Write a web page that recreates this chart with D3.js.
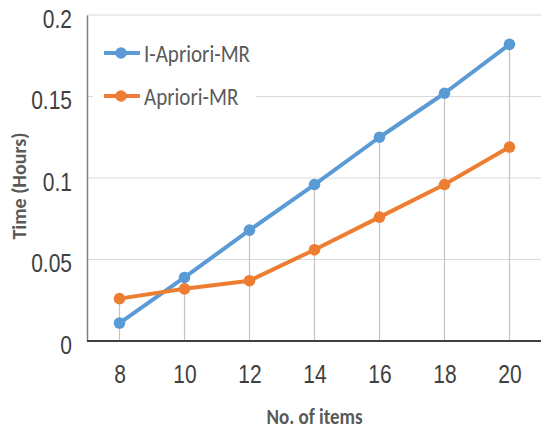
<!DOCTYPE html>
<html>
<head>
<meta charset="utf-8">
<script src="https://cdn.jsdelivr.net/npm/d3@7"></script>
<style>
  html, body { margin: 0; padding: 0; background: #fff; }
  svg { display: block; font-family: Calibri, Carlito, Lato, "Open Sans", sans-serif; }
</style>
</head>
<body>
<svg id="chart" width="541" height="432"></svg>
<script>
// Number of items on the x axis
const items = [8, 10, 12, 14, 16, 18, 20];
// Execution time in hours for each algorithm
const iAprioriMR = [0.011, 0.039, 0.068, 0.096, 0.125, 0.152, 0.182];
const aprioriMR = [0.026, 0.032, 0.037, 0.056, 0.076, 0.096, 0.119];
const seriesNames = ["I-Apriori-MR", "Apriori-MR"];
const seriesColors = ["#5b9bd5", "#ed7d31"];
const yTicks = [0, 0.05, 0.1, 0.15, 0.2];
const yTickLabels = ["0", "0.05", "0.1", "0.15", "0.2"];

const svg = d3.select("#chart");
const margin = { left: 87, right: -1, top: 15, bottom: 91 };
const W = 541, H = 432;
const stretchY = 1.2; // tall, condensed lettering

// Stretch text vertically about its own anchor point
function stretch(sel, k) {
  sel.each(function () {
    const t = d3.select(this);
    const tx = +t.attr("x") || 0;
    const ty = +t.attr("y") || 0;
    const prev = t.attr("transform") || "";
    t.attr("x", 0).attr("y", 0)
      .attr("transform", `${prev} translate(${tx},${ty}) scale(1,${k})`);
  });
}

const x = d3.scalePoint()
  .domain(items)
  .range([margin.left, W - margin.right])
  .padding(0.5);
const y = d3.scaleLinear()
  .domain([0, 0.2])
  .range([H - margin.bottom, margin.top]);

// horizontal gridlines
svg.append("g")
  .selectAll("line")
  .data(yTicks.slice(1))
  .join("line")
  .attr("x1", margin.left)
  .attr("x2", W)
  .attr("y1", d => y(d))
  .attr("y2", d => y(d))
  .attr("stroke", "#d9d9d9")
  .attr("stroke-width", 1.2);

// drop lines from the highest point of each category to the baseline
const tops = items.map((d, i) => Math.max(iAprioriMR[i], aprioriMR[i]));
svg.append("g")
  .selectAll("line")
  .data(items)
  .join("line")
  .attr("x1", d => x(d))
  .attr("x2", d => x(d))
  .attr("y1", (d, i) => y(tops[i]))
  .attr("y2", y(0))
  .attr("stroke", "#c4c4c4")
  .attr("stroke-width", 1.2);

// y axis
const yAxis = svg.append("g")
  .attr("transform", `translate(${margin.left},0)`)
  .call(d3.axisLeft(y).tickValues(yTicks).tickFormat((d, i) => yTickLabels[i]).tickSize(0).tickPadding(15));
yAxis.select(".domain").attr("stroke", "#7f7f7f").attr("stroke-width", 1.5);
yAxis.selectAll("text")
  .attr("font-size", 21)
  .attr("fill", "#404040")
  .attr("font-family", null)
  .attr("y", 4)
  .call(stretch, stretchY);

// x axis
const xAxis = svg.append("g")
  .attr("transform", `translate(0,${y(0)})`)
  .call(d3.axisBottom(x).tickSize(0).tickPadding(16));
xAxis.select(".domain").attr("stroke", "#404040").attr("stroke-width", 2).attr("d", `M${margin.left},0H${W}`);
xAxis.selectAll("text")
  .attr("font-size", 21)
  .attr("fill", "#404040")
  .attr("font-family", null)
  .attr("dy", null)
  .attr("dominant-baseline", "central")
  .attr("y", 33)
  .call(stretch, stretchY);

// series lines and markers
const series = [iAprioriMR, aprioriMR];
const line = d3.line().x((d, i) => x(items[i])).y(d => y(d));
series.forEach((vals, s) => {
  const g = svg.append("g");
  g.append("path")
    .datum(vals)
    .attr("d", line)
    .attr("fill", "none")
    .attr("stroke", seriesColors[s])
    .attr("stroke-width", 4)
    .attr("stroke-linejoin", "round");
  g.selectAll("circle")
    .data(vals)
    .join("circle")
    .attr("cx", (d, i) => x(items[i]))
    .attr("cy", d => y(d))
    .attr("r", 5.8)
    .attr("fill", seriesColors[s]);
});

// legend
const legend = svg.append("g");
legend.append("rect")
  .attr("x", 93).attr("y", 32).attr("width", 163).attr("height", 86)
  .attr("fill", "#fff");
seriesNames.forEach((name, i) => {
  const ly = 53 + i * 43;
  legend.append("line")
    .attr("x1", 104).attr("x2", 140).attr("y1", ly).attr("y2", ly)
    .attr("stroke", seriesColors[i]).attr("stroke-width", 4);
  legend.append("circle")
    .attr("cx", 121).attr("cy", ly).attr("r", 5.8).attr("fill", seriesColors[i]);
  legend.append("text")
    .attr("x", 144).attr("y", ly)
    .attr("dominant-baseline", "central")
    .attr("font-size", 21)
    .attr("fill", "#595959")
    .text(name)
    .call(stretch, stretchY);
});

// axis titles
svg.append("text")
  .attr("x", x(14)).attr("y", 416)
  .attr("text-anchor", "middle")
  .attr("dominant-baseline", "central")
  .attr("font-size", 19)
  .attr("font-weight", "bold")
  .attr("fill", "#595959")
  .text("No. of items")
  .call(stretch, stretchY);

svg.append("text")
  .attr("transform", `translate(19,186) rotate(-90)`)
  .attr("text-anchor", "middle")
  .attr("dominant-baseline", "central")
  .attr("font-size", 20)
  .attr("font-weight", "bold")
  .attr("fill", "#595959")
  .text("Time (Hours)");
</script>
</body>
</html>
